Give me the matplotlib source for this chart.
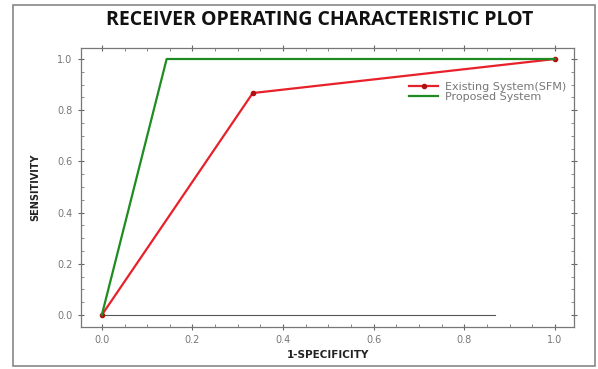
import matplotlib.pyplot as plt
import numpy as np
from matplotlib.ticker import MultipleLocator
from matplotlib.patches import Rectangle

# ROC points
fpr_existing = [0.0, 0.333, 1.0]
tpr_existing = [0.0, 0.867, 1.0]
fpr_proposed = [0.0, 0.143, 1.0]
tpr_proposed = [0.0, 1.0, 1.0]
base_x = [0.0, 0.868]
base_y = [0.0, 0.0]
ticks = [0.0, 0.2, 0.4, 0.6, 0.8, 1.0]

fig = plt.figure(figsize=(5.98, 3.69), dpi=100)
ax = fig.add_axes([81/598, 1 - 327/369, (574 - 81)/598, (327 - 48)/369])

# outer frame of the picture
fig.patches.append(Rectangle((13/598, 3/369), (595 - 13)/598, (364 - 3)/369,
                             transform=fig.transFigure, fill=False,
                             edgecolor="#888888", linewidth=1.2))

ax.plot(base_x, base_y, color="#555555", linewidth=0.8)
ax.plot(fpr_existing, tpr_existing, color="#e8202a", linewidth=1.6,
        marker="o", markersize=3, markerfacecolor="#b01010",
        markeredgecolor="#b01010", label="Existing System(SFM)")
ax.plot(fpr_proposed, tpr_proposed, color="#1e8c22", linewidth=1.6,
        label="Proposed System")

ax.set_xlim(-0.046, 1.042)
ax.set_ylim(-0.047, 1.043)
ax.set_xticks(ticks)
ax.set_yticks(ticks)
ax.set_xticklabels([f"{t:.1f}" for t in ticks])
ax.set_yticklabels([f"{t:.1f}" for t in ticks])
ax.xaxis.set_minor_locator(MultipleLocator(0.05))
ax.yaxis.set_minor_locator(MultipleLocator(0.05))
ax.tick_params(which="major", direction="inout", length=5, width=0.8,
               colors="#666666", labelcolor="#777777", labelsize=7,
               top=True, right=True)
ax.tick_params(which="minor", direction="in", length=2.5, width=0.6,
               colors="#777777", top=True, right=True)
for s in ax.spines.values():
    s.set_color("#777777")
    s.set_linewidth(0.9)

ax.set_xlabel("1-SPECIFICITY", fontsize=7.5, fontweight="bold", color="#222222",
              labelpad=3)
ax.set_ylabel("SENSITIVITY", fontsize=7, fontweight="bold", color="#222222",
              labelpad=12, family="Liberation Sans Narrow")
fig.text(0.535, 0.945, "RECEIVER OPERATING CHARACTERISTIC PLOT",
         ha="center", va="center", fontsize=14, fontweight="bold",
         family="Open Sans", color="#111111")

leg = ax.legend(loc="upper right", bbox_to_anchor=(1.0, 0.905), frameon=False,
                fontsize=8, handlelength=2.6, handletextpad=0.6,
                labelspacing=0.0, borderpad=0.2)
for t in leg.get_texts():
    t.set_color("#777777")

fig.savefig("out.png", dpi=100)
